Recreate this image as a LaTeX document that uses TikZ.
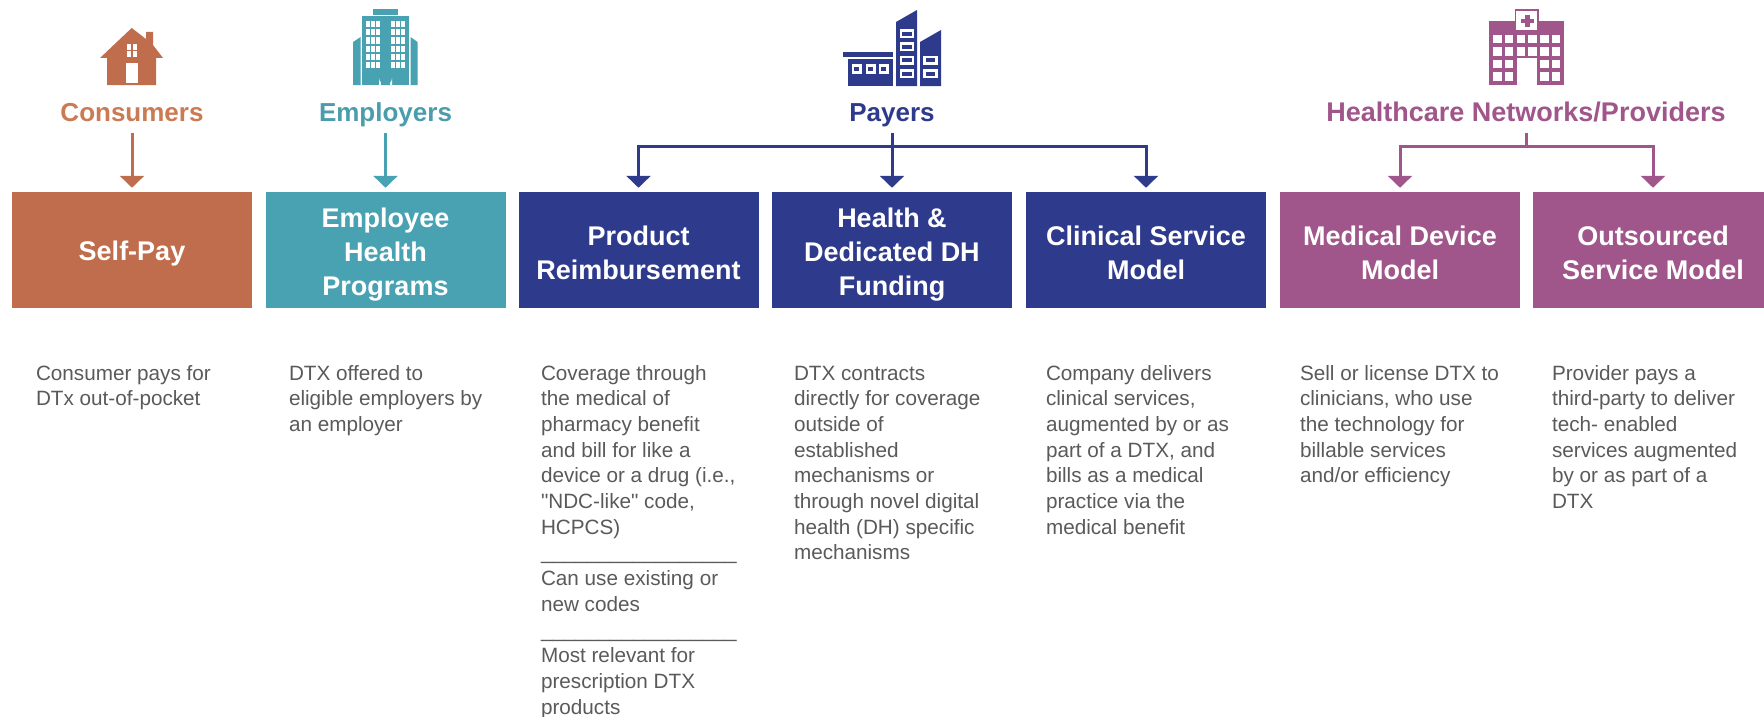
\documentclass[tikz,border=0pt]{standalone}
\usepackage{fontspec}
\setmainfont{Liberation Sans}[Ligatures=TeXOff]
\usetikzlibrary{arrows.meta}
\definecolor{cons}{HTML}{BF6D4C}
\definecolor{consT}{HTML}{CB7A53}
\definecolor{empl}{HTML}{48A2B2}
\definecolor{emplT}{HTML}{4A9DAD}
\definecolor{pay}{HTML}{2E3A8C}
\definecolor{prov}{HTML}{A0568A}
\definecolor{bodyc}{HTML}{5A5A5A}
\newcommand{\fs}{\rule{0pt}{18pt}}
\newcommand{\bs}{\rule{0pt}{26pt}}
\newcommand{\ul}{\textunderscore\textunderscore\textunderscore\textunderscore\textunderscore\textunderscore\textunderscore\textunderscore\textunderscore\textunderscore\textunderscore\textunderscore\textunderscore\textunderscore\textunderscore\textunderscore\textunderscore}
\tikzset{
  x=1pt,y=-1pt,
  heading/.style={font=\bfseries\fontsize{26}{30}\selectfont,anchor=base,inner sep=0pt,outer sep=0pt,text height=20pt,text depth=12pt},
  box/.style={minimum width=240pt,minimum height=116.5pt,inner sep=0pt,outer sep=0pt,align=center,text=white,font=\bfseries\fontsize{27}{34}\selectfont},
  bodytext/.style={anchor=north west,inner sep=0pt,outer sep=0pt,align=left,text=bodyc,font=\fontsize{20.7}{25.7}\selectfont},
  conn/.style={line width=3pt,shorten >=4pt,-{Triangle[width=24pt,length=12pt]}},
  bus/.style={line width=3pt},
  win/.style={fill=white,draw=none},
}
\begin{document}
\begin{tikzpicture}
\path[use as bounding box,clip] (0,0) rectangle (1764,717);
\fill[white] (0,0) rectangle (1764,717);

% House icon
\fill[cons] (131.7,28) -- (146,39) -- (146,32) -- (153,32) -- (153,45) -- (163,58) -- (156,58) -- (156,85) -- (107,85) -- (107,58) -- (100,58) -- cycle;
\fill[win] (127,44) rectangle (137,57);
\draw[cons,line width=1.2pt] (132,44) -- (132,57) (127,50.5) -- (137,50.5);
\fill[win] (126,63) rectangle (138,83);

% Office icon
\fill[empl] (373,9) rectangle (398,15);
\fill[empl] (362,16) rectangle (409,85);
\fill[empl] (353,85) -- (353,42) -- (360.5,37) -- (360.5,85) -- cycle;
\fill[empl] (417.5,85) -- (417.5,42) -- (410.5,37) -- (410.5,85) -- cycle;
\foreach \c in {366,391}{
  \foreach \i in {0,1,2}{
    \foreach \r in {0,1,2,3,4,5}{
      \fill[win] ({\c+\i*5},{21+\r*8.2}) rectangle ++(3.9,6.2);
    }
  }
}
\fill[win] (379,85) -- (379,78) arc[start angle=180,end angle=0,radius=6.5] -- (392,85) -- cycle;
\fill[empl] (381,85) -- (381,78) arc[start angle=180,end angle=0,radius=4.5] -- (390,85) -- cycle;

% Payer icon
\fill[pay] (843,52) rectangle (893,57);
\fill[pay] (848,59) rectangle (893,86);
\foreach \c in {853,867,880}{
  \draw[white,fill=pay,line width=2.2pt] (\c,65.5) rectangle ++(7.5,7);
}
\fill[pay] (896,86) -- (896,22) -- (917,10) -- (917,86) -- cycle;
\fill[pay] (920,86) -- (920,42) -- (941,30) -- (941,86) -- cycle;
\foreach \r in {30.5,43.5,57,70.5}{
  \draw[white,fill=pay,line width=2.4pt] (901,\r) rectangle ++(12,6.5);
}
\foreach \r in {57,70.5}{
  \draw[white,fill=pay,line width=2.4pt] (924.5,\r) rectangle ++(12,6.5);
}

% Hospital icon
\fill[prov] (1489,21) rectangle (1563.5,85);
\draw[prov,fill=white,line width=1.4pt] (1515.5,10) rectangle (1538,31);
\fill[prov] (1524.5,15) rectangle (1529.5,27.5);
\fill[prov] (1520.5,19) rectangle (1533.5,23.5);
\foreach \i in {0,1,2,3,4,5}{
  \fill[win] ({1493.3+\i*11.7},35) rectangle ++(8.4,8.5);
  \fill[win] ({1493.3+\i*11.7},47.5) rectangle ++(8.4,8.5);
}
\foreach \i in {0,1,4,5}{
  \fill[win] ({1493.3+\i*11.7},60) rectangle ++(8.4,8.5);
  \fill[win] ({1493.3+\i*11.7},72) rectangle ++(8.4,8.5);
}
\fill[win] (1517,58) rectangle (1537,85.5);

% Headings
\node[heading,text=consT] (consumers) at (132,121) {Consumers};
\node[heading,text=emplT] (employers) at (385.5,121) {Employers};
\node[heading,text=pay] (payers) at (892,121) {Payers};
\node[heading,text=prov,font=\bfseries\fontsize{27}{30}\selectfont] (providers) at (1526,121) {Healthcare Networks/Providers};

% Boxes
\node[box,fill=cons] (selfpay) at (132,250) {\bs Self-Pay};
\node[box,fill=empl] (employee) at (385.5,250) {\rule{0pt}{28pt}Employee\\Health\\Programs};
\node[box,fill=pay] (product) at (638.5,250) {\bs Product\\Reimbursement};
\node[box,fill=pay] (funding) at (892,250) {\rule{0pt}{28pt}Health \&\\Dedicated DH\\Funding};
\node[box,fill=pay] (clinical) at (1146,250) {\bs Clinical Service\\Model};
\node[box,fill=prov] (device) at (1400,250) {\bs Medical Device\\Model};
\node[box,fill=prov] (outsourced) at (1653,250) {\bs Outsourced\\Service Model};

% Connectors
\draw[conn,cons] (consumers.south) -- (selfpay.north);
\draw[conn,empl] (employers.south) -- (employee.north);
\coordinate (paybus) at (892,146);
\coordinate (provbus) at (1526,146);
\draw[conn,pay] (payers.south) -- (funding.north);
\draw[conn,pay] (paybus) -| (product.north);
\draw[conn,pay] (paybus) -| (clinical.north);
\draw[bus,prov] (providers.south) -- (provbus);
\draw[conn,prov] (provbus) -| (device.north);
\draw[conn,prov] (provbus) -| (outsourced.north);

% Descriptions
\node[bodytext] (t1) at (36,362) {\fs Consumer pays for\\DTx out-of-pocket};
\node[bodytext] (t2) at (289,362) {\fs DTX offered to\\eligible employers by\\an employer};
\node[bodytext] (t3) at (541,362) {\fs Coverage through\\the medical of\\pharmacy benefit\\and bill for like a\\device or a drug (i.e.,\\"NDC-like" code,\\HCPCS)\\\ul\\Can use existing or\\new codes\\\ul\\Most relevant for\\prescription DTX\\products};
\node[bodytext] (t4) at (794,362) {\fs DTX contracts\\directly for coverage\\outside of\\established\\mechanisms or\\through novel digital\\health (DH) specific\\mechanisms};
\node[bodytext] (t5) at (1046,362) {\fs Company delivers\\clinical services,\\augmented by or as\\part of a DTX, and\\bills as a medical\\practice via the\\medical benefit};
\node[bodytext] (t6) at (1300,362) {\fs Sell or license DTX to\\clinicians, who use\\the technology for\\billable services\\and/or efficiency};
\node[bodytext] (t7) at (1552,362) {\fs Provider pays a\\third-party to deliver\\tech- enabled\\services augmented\\by or as part of a\\DTX};
\end{tikzpicture}
\end{document}
